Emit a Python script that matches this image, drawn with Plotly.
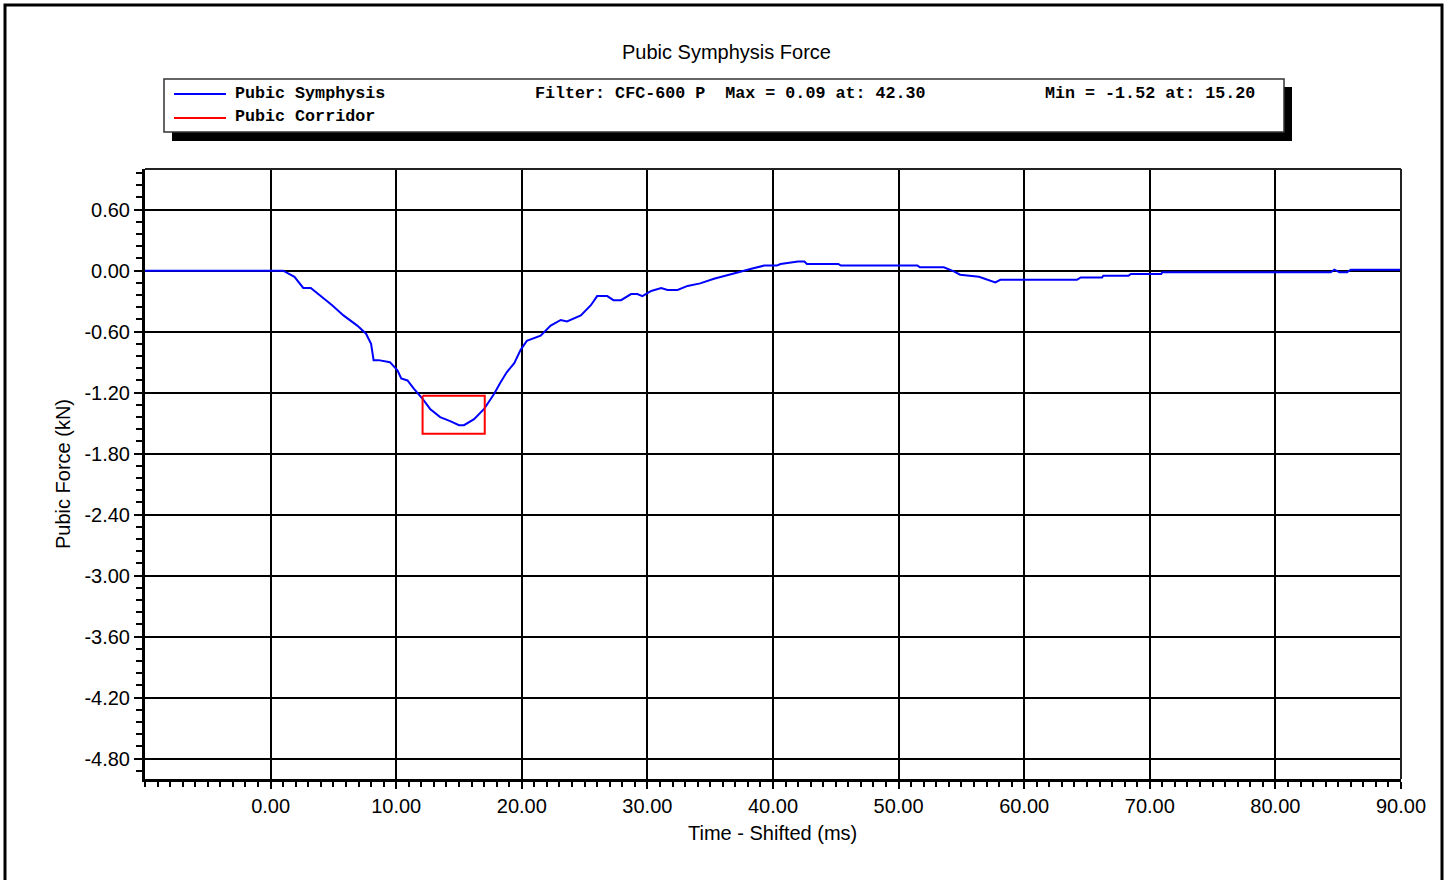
import plotly.graph_objects as go

# ---- data ----
time_ms = [-10.0, 1.0, 1.9, 2.6, 3.2, 4.1, 4.9, 5.8, 6.9, 7.6, 8.0, 8.2, 8.6, 9.5, 10.1, 10.4,
           10.9, 11.4, 12.1, 12.7, 13.5, 14.3, 15.0, 15.4, 16.2, 17.0, 17.8, 18.3, 18.8, 19.4,
           19.9, 20.4, 21.5, 22.3, 23.1, 23.6, 24.7, 25.5, 26.0, 26.8, 27.3, 27.9, 28.7, 29.2,
           29.6, 30.3, 31.1, 31.6, 32.4, 33.2, 34.2, 35.3, 36.4, 37.4, 38.2, 39.3, 40.3, 40.6,
           42.0, 42.5, 42.7, 45.2, 45.4, 51.5, 51.7, 53.6, 54.4, 54.9, 56.4, 57.1, 57.7, 58.1,
           64.2, 64.5, 66.2, 66.3, 68.3, 68.5, 70.9, 71.0, 84.4, 84.7, 85.1, 85.7, 86.0, 90.0]
force_kn = [0.0, 0.0, -0.06, -0.17, -0.17, -0.26, -0.34, -0.44, -0.54, -0.62, -0.72, -0.88, -0.88,
            -0.90, -0.98, -1.06, -1.08, -1.16, -1.26, -1.36, -1.44, -1.48, -1.52, -1.52, -1.46,
            -1.36, -1.21, -1.10, -1.00, -0.91, -0.78, -0.69, -0.64, -0.54, -0.485, -0.50, -0.44,
            -0.34, -0.25, -0.25, -0.29, -0.29, -0.23, -0.23, -0.25, -0.20, -0.17, -0.19, -0.19,
            -0.15, -0.125, -0.08, -0.04, -0.01, 0.016, 0.05, 0.05, 0.066, 0.09, 0.09, 0.066,
            0.066, 0.05, 0.05, 0.033, 0.033, -0.007, -0.04, -0.06, -0.09, -0.115, -0.09, -0.09,
            -0.066, -0.066, -0.05, -0.05, -0.033, -0.033, -0.016, -0.016, 0.01, -0.016, -0.016,
            0.01, 0.01]

corridor_t = [12.1, 17.05, 17.05, 12.1, 12.1]
corridor_f = [-1.23, -1.23, -1.605, -1.605, -1.23]

x_tickvals = [0, 10, 20, 30, 40, 50, 60, 70, 80, 90]
y_tickvals = [0.6, 0.0, -0.6, -1.2, -1.8, -2.4, -3.0, -3.6, -4.2, -4.8]

title_text = "Pubic Symphysis Force"
series_names = ["Pubic Symphysis", "Pubic Corridor"]
info_max = "Filter: CFC-600 P  Max = 0.09 at: 42.30"
info_min = "Min = -1.52 at: 15.20"

# ---- layout geometry (pixels) ----
W, H = 1450, 880
PL, PR, PT, PB = 145, 1401, 169, 779


def px(x):
    return (x - PL) / (PR - PL)


def py(y):
    return (PB - y) / (PB - PT)


SANS = "Liberation Sans, Arial, sans-serif"
MONO = "Liberation Mono, Courier New, monospace"

fig = go.Figure()
fig.add_trace(go.Scatter(x=time_ms, y=force_kn, mode="lines", name=series_names[0],
                         line=dict(color="#0000FF", width=2), showlegend=False))
fig.add_trace(go.Scatter(x=corridor_t, y=corridor_f, mode="lines", name=series_names[1],
                         line=dict(color="#FF0000", width=2), showlegend=False))

fig.update_layout(
    width=W, height=H, autosize=False,
    margin=dict(l=PL, r=W - PR, t=PT, b=H - PB),
    paper_bgcolor="white", plot_bgcolor="white",
    showlegend=False,
    font=dict(family=SANS, size=20, color="black"),
)

fig.update_xaxes(
    range=[-10, 90], tickmode="array", tickvals=x_tickvals,
    ticktext=[f"{v:.2f}" for v in x_tickvals],
    showgrid=True, gridcolor="black", gridwidth=2, zeroline=False,
    showline=True, linecolor="black", linewidth=3, mirror=False,
    ticks="outside", ticklen=7, tickwidth=2, tickcolor="black",
    tickfont=dict(family=SANS, size=20),
    minor=dict(tickmode="linear", tick0=0, dtick=1, ticks="outside", ticklen=5,
               tickwidth=2, tickcolor="black", showgrid=False),
)
fig.update_yaxes(
    range=[-5, 1], tickmode="array", tickvals=y_tickvals,
    ticktext=[f"{v:.2f}" for v in y_tickvals],
    showgrid=True, gridcolor="black", gridwidth=1.5, zeroline=False,
    showline=True, linecolor="black", linewidth=3, mirror=False,
    ticks="outside", ticklen=8, tickwidth=2, tickcolor="black",
    tickfont=dict(family=SANS, size=20),
    minor=dict(tickmode="linear", tick0=0, dtick=0.12, ticks="outside", ticklen=6,
               tickwidth=2, tickcolor="black", showgrid=False),
)

shapes = []
# top and right frame of plot area
shapes.append(dict(type="line", xref="paper", yref="paper", x0=0, x1=1, y0=1, y1=1,
                   line=dict(color="#222222", width=2)))
shapes.append(dict(type="line", xref="paper", yref="paper", x0=1, x1=1, y0=0, y1=1,
                   line=dict(color="#222222", width=2)))
# outer figure border
shapes.append(dict(type="rect", xref="paper", yref="paper", x0=px(5), x1=px(1442),
                   y0=py(890), y1=py(5), line=dict(color="black", width=3),
                   fillcolor="rgba(0,0,0,0)"))
# legend box shadow and box
shapes.append(dict(type="rect", xref="paper", yref="paper", x0=px(172), x1=px(1292),
                   y0=py(141), y1=py(87), line=dict(width=0), fillcolor="black"))
shapes.append(dict(type="rect", xref="paper", yref="paper", x0=px(164), x1=px(1284),
                   y0=py(132), y1=py(79), line=dict(color="#333333", width=1.5),
                   fillcolor="white"))
# legend samples
shapes.append(dict(type="line", xref="paper", yref="paper", x0=px(174), x1=px(226),
                   y0=py(94), y1=py(94), line=dict(color="#0000FF", width=2)))
shapes.append(dict(type="line", xref="paper", yref="paper", x0=px(174), x1=px(226),
                   y0=py(118), y1=py(118), line=dict(color="#FF0000", width=2)))
fig.update_layout(shapes=shapes)

mono_font = dict(family=MONO, size=16.7, color="black", weight="bold")
ann = []
ann.append(dict(text=series_names[0], x=px(233), y=py(93), xref="paper", yref="paper",
                xanchor="left", yanchor="middle", showarrow=False, font=mono_font))
ann.append(dict(text=series_names[1], x=px(233), y=py(117), xref="paper", yref="paper",
                xanchor="left", yanchor="middle", showarrow=False, font=mono_font))
ann.append(dict(text=info_max, x=px(533), y=py(93), xref="paper", yref="paper",
                xanchor="left", yanchor="middle", showarrow=False, font=mono_font))
ann.append(dict(text=info_min, x=px(1043), y=py(93), xref="paper", yref="paper",
                xanchor="left", yanchor="middle", showarrow=False, font=mono_font))
ann.append(dict(text=title_text, x=px(726), y=py(52), xref="paper", yref="paper",
                xanchor="center", yanchor="middle", showarrow=False,
                font=dict(family=SANS, size=20, color="black")))
ann.append(dict(text="Time - Shifted (ms)", x=px(772), y=py(833), xref="paper", yref="paper",
                xanchor="center", yanchor="middle", showarrow=False,
                font=dict(family=SANS, size=20, color="black")))
ann.append(dict(text="Pubic Force (kN)", x=px(63), y=py(474), xref="paper", yref="paper",
                xanchor="center", yanchor="middle", showarrow=False, textangle=-90,
                font=dict(family=SANS, size=20, color="black")))
fig.update_layout(annotations=ann)

fig.write_html(
    "out.html",
    config={"displayModeBar": False},
    post_script="document.body.style.margin='0';document.body.style.overflow='hidden';",
)
